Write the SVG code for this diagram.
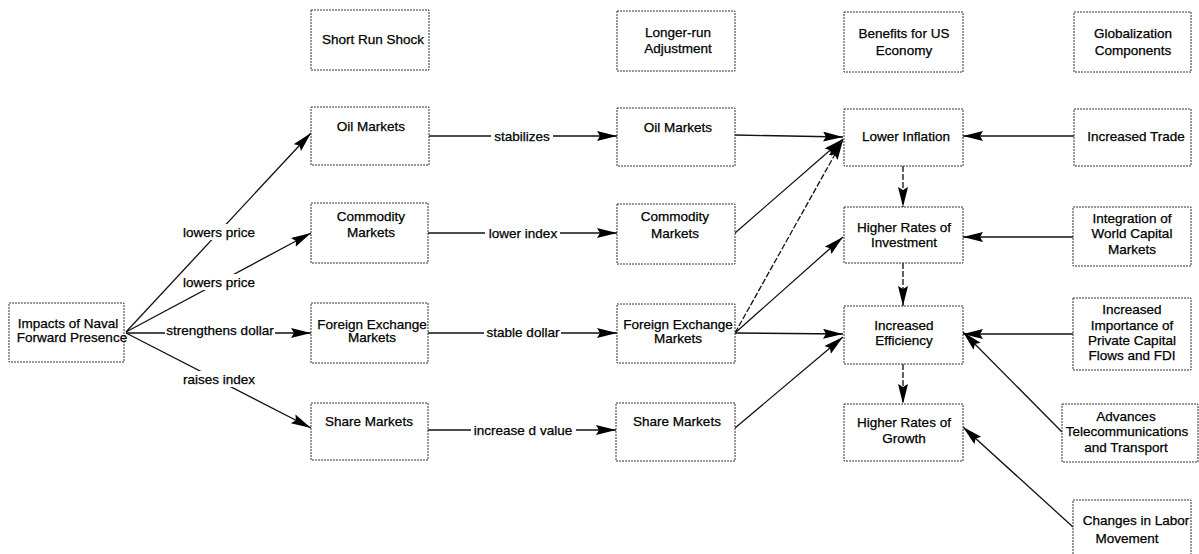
<svg xmlns="http://www.w3.org/2000/svg" width="1199" height="554" viewBox="0 0 1199 554">
<style>
.box{fill:#fff;stroke:#333;stroke-width:1;stroke-dasharray:2,1}
text{font-family:"Liberation Sans",Arial,sans-serif;font-size:13.5px;fill:#000;stroke:#000;stroke-width:0.25;text-anchor:middle}
.ln{stroke:#111;stroke-width:1.3;fill:none;marker-end:url(#ah)}
.dl{stroke-dasharray:6,2}
.bg{fill:#fff}
</style>
<defs>
<marker id="ah" markerUnits="userSpaceOnUse" markerWidth="22" markerHeight="12" refX="20" refY="5" orient="auto">
<path d="M0,0 L20,5 L0,10 L3,5 z" fill="#000"/>
</marker>
</defs>
<rect width="1199" height="554" fill="#fff"/>

<g id="connectors">
<line class="ln" x1="126" y1="332" x2="311" y2="133"/>
<line class="ln" x1="126" y1="332" x2="311" y2="233"/>
<line class="ln" x1="126" y1="333" x2="311" y2="333"/>
<line class="ln" x1="126" y1="333" x2="311" y2="428"/>
<line class="ln" x1="429" y1="136" x2="617" y2="136"/>
<line class="ln" x1="428" y1="233" x2="617" y2="233"/>
<line class="ln" x1="428" y1="333" x2="617" y2="333"/>
<line class="ln" x1="428" y1="430" x2="616" y2="430"/>
<line class="ln" x1="735" y1="135" x2="843" y2="137"/>
<line class="ln" x1="735" y1="233" x2="843" y2="139"/>
<line class="ln dl" x1="735" y1="333" x2="843" y2="140"/>
<line class="ln" x1="735" y1="333" x2="843" y2="237"/>
<line class="ln" x1="735" y1="333" x2="843" y2="334"/>
<line class="ln" x1="735" y1="428" x2="843" y2="337"/>
<line class="ln dl" x1="903" y1="166" x2="903" y2="207"/>
<line class="ln dl" x1="903" y1="263" x2="903" y2="306"/>
<line class="ln dl" x1="903" y1="364" x2="903" y2="404"/>
<line class="ln" x1="1074" y1="136" x2="963" y2="136"/>
<line class="ln" x1="1073" y1="237" x2="963" y2="237"/>
<line class="ln" x1="1073" y1="334" x2="963" y2="334"/>
<line class="ln" x1="1062" y1="432" x2="963" y2="332"/>
<line class="ln" x1="1073" y1="527" x2="963" y2="427"/>

<rect class="bg" x="181" y="224" width="77" height="16"/>
<text x="219" y="237">lowers price</text>
<rect class="bg" x="181" y="274" width="77" height="16"/>
<text x="219" y="287">lowers price</text>
<rect class="bg" x="165" y="322" width="110" height="16"/>
<text x="220" y="335">strengthens dollar</text>
<rect class="bg" x="181" y="371" width="77" height="16"/>
<text x="219" y="384">raises index</text>
<rect class="bg" x="491" y="128" width="62" height="16"/>
<text x="522" y="141">stabilizes</text>
<rect class="bg" x="485" y="225" width="75" height="16"/>
<text x="523" y="238">lower index</text>
<rect class="bg" x="484" y="324" width="77" height="16"/>
<text x="523" y="337">stable dollar</text>
<rect class="bg" x="471" y="422" width="105" height="16"/>
<text x="523" y="435">increase d value</text>
</g>

<g id="short-run-shock"><rect class="box" x="311" y="10" width="118" height="60"/><text x="373" y="44">Short Run Shock</text></g>
<g id="longer-run-adjustment"><rect class="box" x="617" y="11" width="118" height="60"/><text x="678" y="37">Longer-run</text><text x="678" y="53">Adjustment</text></g>
<g id="benefits"><rect class="box" x="844" y="12" width="119" height="60"/><text x="904" y="38">Benefits for US</text><text x="904" y="55">Economy</text></g>
<g id="globalization"><rect class="box" x="1074" y="12" width="117" height="60"/><text x="1133" y="38">Globalization</text><text x="1133" y="55">Components</text></g>

<g id="impacts"><rect class="box" x="9" y="303" width="115" height="59"/><text x="68" y="328">Impacts of Naval</text><text x="72" y="342">Forward Presence</text></g>

<g id="oil-short"><rect class="box" x="311" y="107" width="118" height="58"/><text x="371" y="131">Oil Markets</text></g>
<g id="commodity-short"><rect class="box" x="311" y="203" width="117" height="60"/><text x="371" y="221">Commodity</text><text x="371" y="237">Markets</text></g>
<g id="fx-short"><rect class="box" x="311" y="303" width="117" height="60"/><text x="372" y="329">Foreign Exchange</text><text x="372" y="342">Markets</text></g>
<g id="share-short"><rect class="box" x="311" y="403" width="117" height="57"/><text x="369" y="426">Share Markets</text></g>

<g id="oil-long"><rect class="box" x="617" y="108" width="118" height="58"/><text x="678" y="132">Oil Markets</text></g>
<g id="commodity-long"><rect class="box" x="617" y="204" width="118" height="60"/><text x="675" y="221">Commodity</text><text x="675" y="238">Markets</text></g>
<g id="fx-long"><rect class="box" x="617" y="304" width="118" height="59"/><text x="678" y="329">Foreign Exchange</text><text x="678" y="343">Markets</text></g>
<g id="share-long"><rect class="box" x="616" y="403" width="119" height="58"/><text x="677" y="426">Share Markets</text></g>

<g id="lower-inflation"><rect class="box" x="844" y="109" width="119" height="57"/><text x="906" y="141">Lower Inflation</text></g>
<g id="higher-investment"><rect class="box" x="844" y="207" width="119" height="56"/><text x="904" y="232">Higher Rates of</text><text x="904" y="247">Investment</text></g>
<g id="increased-efficiency"><rect class="box" x="844" y="306" width="119" height="58"/><text x="904" y="330">Increased</text><text x="904" y="345">Efficiency</text></g>
<g id="higher-growth"><rect class="box" x="844" y="404" width="119" height="57"/><text x="904" y="427">Higher Rates of</text><text x="904" y="443">Growth</text></g>

<g id="increased-trade"><rect class="box" x="1074" y="109" width="117" height="57"/><text x="1136" y="141">Increased Trade</text></g>
<g id="integration"><rect class="box" x="1073" y="207" width="118" height="59"/><text x="1132" y="223">Integration of</text><text x="1132" y="238">World Capital</text><text x="1132" y="254">Markets</text></g>
<g id="private-capital"><rect class="box" x="1073" y="298" width="118" height="72"/><text x="1132" y="314">Increased</text><text x="1132" y="330">Importance of</text><text x="1132" y="345">Private Capital</text><text x="1132" y="360">Flows and FDI</text></g>
<g id="telecom"><rect class="box" x="1062" y="404" width="136" height="58"/><text x="1126" y="421">Advances</text><text x="1127" y="436">Telecommunications</text><text x="1126" y="452">and Transport</text></g>
<g id="labor"><rect class="box" x="1073" y="500" width="118" height="62"/><text x="1136" y="525">Changes in Labor</text><text x="1127" y="543">Movement</text></g>
</svg>
